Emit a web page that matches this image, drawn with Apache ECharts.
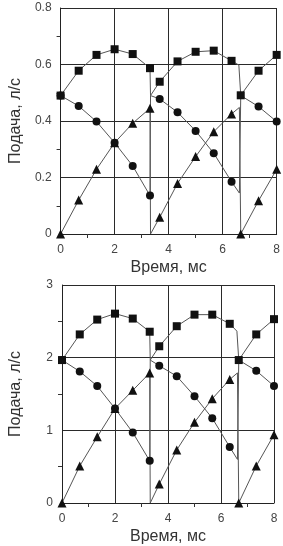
<!DOCTYPE html>
<html>
<head>
<meta charset="utf-8">
<script src="https://cdn.jsdelivr.net/npm/echarts@6/dist/echarts.min.js"></script>
<style>
  html, body { margin: 0; padding: 0; background: #fff; }
  #chart { width: 283px; height: 546px; }
</style>
</head>
<body>
<div id="chart"></div>
<script>
// [time, value, marker] -- marker 0 = point only on the line (jump), no symbol
const topSquare = [[0,0.49,1],[0.67,0.578,1],[1.33,0.634,1],[2,0.654,1],[2.67,0.637,1],[3.31,0.587,1],[3.33,0.49,0],
  [3.67,0.539,1],[4.33,0.611,1],[5,0.645,1],[5.67,0.649,1],[6.33,0.613,1],[6.6,0.598,0],[6.67,0.491,1],[7.33,0.578,1],[8,0.634,1]]
const topCircle = [[0,0.49,1],[0.67,0.453,1],[1.33,0.398,1],[2,0.323,1],[2.67,0.241,1],[3.31,0.136,1],[3.33,0.49,0],
  [3.67,0.478,1],[4.33,0.431,1],[5,0.365,1],[5.67,0.286,1],[6.33,0.185,1],[6.62,0.145,0],[6.67,0.49,0],[7.33,0.451,1],[8,0.398,1]]
const topTriangle = [[0,0,1],[0.67,0.12,1],[1.33,0.229,1],[2,0.323,1],[2.67,0.392,1],[3.31,0.445,1],[3.33,0,0],
  [3.67,0.059,1],[4.33,0.179,1],[5,0.274,1],[5.67,0.362,1],[6.33,0.425,1],[6.62,0.448,0],[6.67,0,1],[7.33,0.118,1],[8,0.229,1]]

const botSquare = [[0,1.967,1],[0.67,2.32,1],[1.33,2.524,1],[2,2.606,1],[2.67,2.538,1],[3.31,2.357,1],[3.33,1.967,0],
  [3.67,2.157,1],[4.33,2.433,1],[5,2.592,1],[5.67,2.592,1],[6.33,2.466,1],[6.6,2.365,0],[6.67,1.967,1],[7.33,2.32,1],[8,2.53,1]]
const botCircle = [[0,1.967,1],[0.67,1.81,1],[1.33,1.61,1],[2,1.3,1],[2.67,0.97,1],[3.31,0.58,1],[3.33,1.967,0],
  [3.67,1.89,1],[4.33,1.745,1],[5,1.47,1],[5.67,1.167,1],[6.33,0.77,1],[6.62,0.6,0],[6.67,1.967,0],[7.33,1.82,1],[8,1.61,1]]
const botTriangle = [[0,0,1],[0.67,0.51,1],[1.33,0.91,1],[2,1.3,1],[2.67,1.55,1],[3.31,1.79,1],[3.33,0,0],
  [3.67,0.26,1],[4.33,0.73,1],[5,1.11,1],[5.67,1.435,1],[6.33,1.7,1],[6.62,1.79,0],[6.67,0,1],[7.33,0.51,1],[8,0.94,1]]

const xTitle = 'Время, мс'
const yTitle = 'Подача, л/с'

const font = 'Liberation Sans'

function items(pts) {
  return pts.map(p => p[2] ? { value: [p[0], p[1]] } : { value: [p[0], p[1]], symbol: 'none' })
}

function xAxis(idx) {
  return {
    type: 'value', gridIndex: idx, min: 0, max: 8, interval: 2,
    name: xTitle, nameLocation: 'middle', nameGap: 26,
    nameTextStyle: { fontFamily: font, fontSize: 16, color: '#333' },
    axisLine: { onZero: false, lineStyle: { color: '#222' } },
    axisTick: { show: false },
    minorTick: { show: true, splitNumber: 2, length: 4, lineStyle: { color: '#333' } },
    axisLabel: { fontFamily: font, fontSize: 12, color: '#444', margin: 10 },
    splitLine: { show: true, lineStyle: { color: '#2a2a2a' } }
  }
}

function yAxis(idx, max, step, gap) {
  return {
    type: 'value', gridIndex: idx, min: 0, max: max, interval: step,
    name: yTitle, nameLocation: 'middle', nameGap: gap,
    nameTextStyle: { fontFamily: font, fontSize: 16, color: '#333' },
    axisLine: { lineStyle: { color: '#222' } },
    axisTick: { show: false },
    minorTick: { show: true, splitNumber: 2, length: 4, lineStyle: { color: '#333' } },
    axisLabel: { fontFamily: font, fontSize: 12, color: '#444', margin: 9 },
    splitLine: { show: true, lineStyle: { color: '#2a2a2a' } }
  }
}

function line(idx, pts, symbol, size) {
  return {
    type: 'line', xAxisIndex: idx, yAxisIndex: idx,
    data: items(pts), symbol: symbol, symbolSize: size, showSymbol: true,
    lineStyle: { color: '#555', width: 1 },
    itemStyle: { color: '#111', borderWidth: 0 },
    emphasis: { disabled: true }
  }
}

const chart = echarts.init(document.getElementById('chart'))
chart.setOption({
  animation: false,
  backgroundColor: '#fff',
  grid: [
    { left: 51, right: 5, top: 8, bottom: 312 },
    { left: 55, right: 9, top: 285, bottom: 40 }
  ],
  xAxis: [xAxis(0), xAxis(1)],
  yAxis: [yAxis(0, 0.8, 0.2, 34), yAxis(1, 3, 1, 38)],
  series: [
    line(0, topTriangle, 'triangle', 9),
    line(0, topCircle, 'circle', 8),
    line(0, topSquare, 'rect', 8),
    line(1, botTriangle, 'triangle', 9),
    line(1, botCircle, 'circle', 8),
    line(1, botSquare, 'rect', 8)
  ]
})
</script>
</body>
</html>
